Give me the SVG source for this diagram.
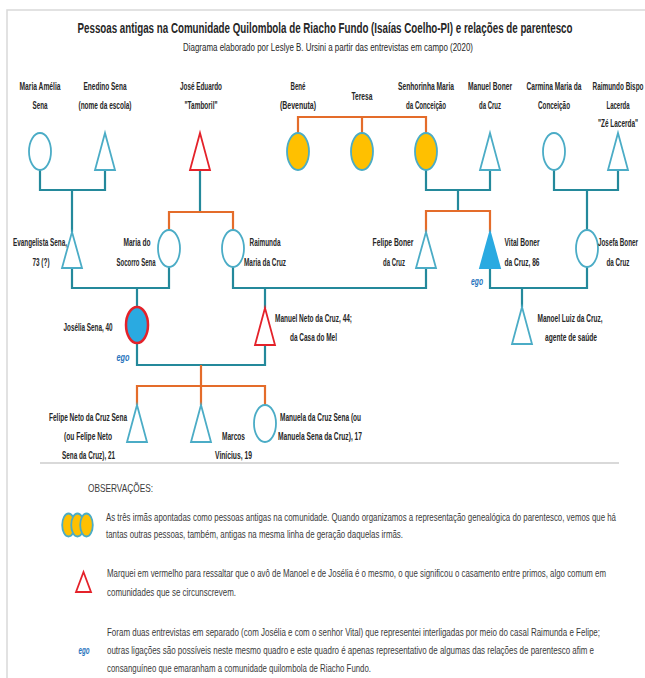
<svg xmlns="http://www.w3.org/2000/svg" width="645" height="678" viewBox="0 0 645 678">
<style>
.c{fill:none;stroke:#24899B;stroke-width:2.2}
.o{fill:none;stroke:#E46C2A;stroke-width:2.2}
.n{fill:#fff;stroke:#4BACC6;stroke-width:1.8}
.y{fill:#FFC000;stroke:#4BACC6;stroke-width:1.8}
.r{fill:#fff;stroke:#E4222A;stroke-width:1.8}
.lb{font-family:"Liberation Sans Narrow","Liberation Sans",Arial,sans-serif;font-size:10px;font-weight:bold;fill:#262626;text-anchor:middle}
.ego{font-family:"Liberation Sans Narrow","Liberation Sans",Arial,sans-serif;font-size:10px;font-style:italic;font-weight:bold;fill:#2874BD;text-anchor:middle}
.ob{font-family:"Liberation Sans Narrow","Liberation Sans",Arial,sans-serif;font-size:10.5px;fill:#3a3a3a}
.frame{fill:none;stroke:#D9D9D9;stroke-width:1.5}
</style>
<rect x="0" y="0" width="645" height="678" fill="#fff"/>
<path class="frame" d="M7,678 V10 H645"/>
<line x1="40" y1="463" x2="619" y2="463" stroke="#D9D9D9" stroke-width="2"/>
<g id="title">
<text x="325" y="33" font-family="'Liberation Sans Narrow','Liberation Sans',Arial,sans-serif" font-size="14" font-weight="bold" fill="#262626" text-anchor="middle" textLength="495" lengthAdjust="spacingAndGlyphs">Pessoas antigas na Comunidade Quilombola de Riacho Fundo (Isaías Coelho-PI) e relações de parentesco</text>
<text x="328" y="51" font-family="'Liberation Sans Narrow','Liberation Sans',Arial,sans-serif" font-size="11" fill="#262626" text-anchor="middle" textLength="290" lengthAdjust="spacingAndGlyphs">Diagrama elaborado por Leslye B. Ursini a partir das entrevistas em campo (2020)</text>
</g>
<g id="connectors">
<path class="c" d="M40,170 V190 H105 V170 M72,190 V232"/>
<path class="c" d="M200,170 V212"/>
<path class="o" d="M169,230 V212 H233 V230"/>
<path class="o" d="M298,133 V117 H426 V133 M362,117 V133"/>
<path class="c" d="M426,170 V190 H490 V170 M458,190 V211"/>
<path class="o" d="M426,232 V211 H490 V232"/>
<path class="c" d="M554,170 V190 H618 V170 M587,190 V230"/>
<path class="c" d="M72,268 V288 H169 V267 M137,288 V307"/>
<path class="c" d="M233,267 V288 H426 V268 M265,288 V308"/>
<path class="c" d="M490,268 V288 H587 V267 M522,288 V307"/>
<path class="c" d="M137,343 V365 H265 V345"/>
<path class="o" d="M201,365 V405 M137,405 V386 H265 V405"/>
</g>
<g id="maria-amelia"><ellipse class="n" cx="40" cy="151.5" rx="11" ry="18.5"/><text class="lb" x="40" y="90" textLength="41" lengthAdjust="spacingAndGlyphs">Maria Amélia</text><text class="lb" x="40" y="109" textLength="15" lengthAdjust="spacingAndGlyphs">Sena</text></g>
<g id="enedino"><path class="n" d="M105,133 L115,170 L95,170 Z"/><text class="lb" x="105" y="90" textLength="43" lengthAdjust="spacingAndGlyphs">Enedino Sena</text><text class="lb" x="105" y="109" textLength="53" lengthAdjust="spacingAndGlyphs">(nome da escola)</text></g>
<g id="jose-eduardo"><path class="r" d="M200,133 L210,170 L190,170 Z"/><text class="lb" x="201" y="90" textLength="42" lengthAdjust="spacingAndGlyphs">José Eduardo</text><text class="lb" x="201" y="109" textLength="33" lengthAdjust="spacingAndGlyphs">"Tamboril"</text></g>
<g id="bene"><ellipse class="y" cx="298" cy="151.5" rx="11" ry="18.5"/><text class="lb" x="298" y="90" textLength="15" lengthAdjust="spacingAndGlyphs">Bené</text><text class="lb" x="298" y="109" textLength="36" lengthAdjust="spacingAndGlyphs">(Bevenuta)</text></g>
<g id="teresa"><ellipse class="y" cx="362" cy="151.5" rx="11" ry="18.5"/><text class="lb" x="362" y="99.5" textLength="21" lengthAdjust="spacingAndGlyphs">Teresa</text></g>
<g id="senhorinha"><ellipse class="y" cx="426" cy="151.5" rx="11" ry="18.5"/><text class="lb" x="426" y="90" textLength="56" lengthAdjust="spacingAndGlyphs">Senhorinha Maria</text><text class="lb" x="426" y="109" textLength="40" lengthAdjust="spacingAndGlyphs">da Conceição</text></g>
<g id="manuel-boner"><path class="n" d="M490,133 L500,170 L480,170 Z"/><text class="lb" x="490" y="90" textLength="44" lengthAdjust="spacingAndGlyphs">Manuel Boner</text><text class="lb" x="490" y="109" textLength="22" lengthAdjust="spacingAndGlyphs">da Cruz</text></g>
<g id="carmina"><ellipse class="n" cx="554" cy="151.5" rx="11" ry="18.5"/><text class="lb" x="554" y="90" textLength="55" lengthAdjust="spacingAndGlyphs">Carmina Maria da</text><text class="lb" x="554" y="109" textLength="32" lengthAdjust="spacingAndGlyphs">Conceição</text></g>
<g id="raimundo"><path class="n" d="M618,133 L628,170 L608,170 Z"/><text class="lb" x="618" y="90" textLength="51" lengthAdjust="spacingAndGlyphs">Raimundo Bispo</text><text class="lb" x="618" y="108.5" textLength="23" lengthAdjust="spacingAndGlyphs">Lacerda</text><text class="lb" x="618" y="126.5" textLength="40" lengthAdjust="spacingAndGlyphs">"Zé Lacerda"</text></g>
<g id="evangelista"><path class="n" d="M72,232 L82,268 L62,268 Z"/><text class="lb" x="40" y="245.5" textLength="54" lengthAdjust="spacingAndGlyphs">Evangelista Sena,</text><text class="lb" x="41" y="265.5" textLength="17" lengthAdjust="spacingAndGlyphs">73 (?)</text></g>
<g id="socorro"><ellipse class="n" cx="169" cy="248.5" rx="11" ry="18.5"/><text class="lb" x="137" y="245.5" textLength="27" lengthAdjust="spacingAndGlyphs">Maria do</text><text class="lb" x="136" y="265.5" textLength="39" lengthAdjust="spacingAndGlyphs">Socorro Sena</text></g>
<g id="raimunda"><ellipse class="n" cx="233" cy="248.5" rx="11" ry="18.5"/><text class="lb" x="265" y="245.5" textLength="31" lengthAdjust="spacingAndGlyphs">Raimunda</text><text class="lb" x="265" y="265.5" textLength="42" lengthAdjust="spacingAndGlyphs">Maria da Cruz</text></g>
<g id="felipe-boner"><path class="n" d="M426,232 L436,268 L416,268 Z"/><text class="lb" x="393" y="245.5" textLength="41" lengthAdjust="spacingAndGlyphs">Felipe Boner</text><text class="lb" x="394" y="265.5" textLength="22" lengthAdjust="spacingAndGlyphs">da Cruz</text></g>
<g id="vital"><path d="M490,232 L500,268 L480,268 Z" fill="#2AAAE1" stroke="#2AAAE1" stroke-width="1.8"/><text class="lb" x="522" y="245.5" textLength="35" lengthAdjust="spacingAndGlyphs">Vital Boner</text><text class="lb" x="522" y="265.5" textLength="35" lengthAdjust="spacingAndGlyphs">da Cruz, 86</text><text class="ego" x="477" y="284.5" textLength="12" lengthAdjust="spacingAndGlyphs">ego</text></g>
<g id="josefa"><ellipse class="n" cx="587" cy="248.5" rx="11" ry="18.5"/><text class="lb" x="618" y="245.5" textLength="40" lengthAdjust="spacingAndGlyphs">Josefa Boner</text><text class="lb" x="618" y="265.5" textLength="23" lengthAdjust="spacingAndGlyphs">da Cruz</text></g>
<g id="joselia"><ellipse cx="137" cy="325" rx="11" ry="18" fill="#2AAAE1" stroke="#E4222A" stroke-width="2.5"/><text class="lb" x="88" y="330.5" textLength="49" lengthAdjust="spacingAndGlyphs">Josélia Sena, 40</text><text class="ego" x="123" y="360.5" textLength="13" lengthAdjust="spacingAndGlyphs">ego</text></g>
<g id="manuel-neto"><path class="r" d="M265,308 L275,345 L255,345 Z"/><text class="lb" x="313.5" y="321.5" textLength="77" lengthAdjust="spacingAndGlyphs">Manuel Neto da Cruz, 44;</text><text class="lb" x="313.5" y="340.5" textLength="47" lengthAdjust="spacingAndGlyphs">da Casa do Mel</text></g>
<g id="manoel-luiz"><path class="n" d="M522,307 L532,344 L512,344 Z"/><text class="lb" x="570" y="321.5" textLength="65" lengthAdjust="spacingAndGlyphs">Manoel Luiz da Cruz,</text><text class="lb" x="571" y="340.5" textLength="52" lengthAdjust="spacingAndGlyphs">agente de saúde</text></g>
<g id="felipe-neto"><path class="n" d="M137,405 L147,442 L127,442 Z"/><text class="lb" x="88" y="420.5" textLength="78" lengthAdjust="spacingAndGlyphs">Felipe Neto da Cruz Sena</text><text class="lb" x="88" y="439.5" textLength="48" lengthAdjust="spacingAndGlyphs">(ou Felipe Neto</text><text class="lb" x="88.5" y="458.5" textLength="53" lengthAdjust="spacingAndGlyphs">Sena da Cruz), 21</text></g>
<g id="marcos"><path class="n" d="M201,405 L211,442 L191,442 Z"/><text class="lb" x="233.5" y="439.5" textLength="23" lengthAdjust="spacingAndGlyphs">Marcos</text><text class="lb" x="233.5" y="458.5" textLength="37" lengthAdjust="spacingAndGlyphs">Vinícius, 19</text></g>
<g id="manuela"><ellipse class="n" cx="265" cy="423.5" rx="11" ry="18.5"/><text class="lb" x="320.5" y="420.5" textLength="81" lengthAdjust="spacingAndGlyphs">Manuela da Cruz Sena (ou</text><text class="lb" x="320" y="439.5" textLength="84" lengthAdjust="spacingAndGlyphs">Manuela Sena da Cruz), 17</text></g>
<g id="observacoes">
<text class="ob" x="88" y="492" textLength="65" lengthAdjust="spacingAndGlyphs">OBSERVAÇÕES:</text>
<ellipse class="y" cx="68.5" cy="525" rx="6.3" ry="11.5"/>
<ellipse class="y" cx="77.5" cy="525" rx="6.3" ry="11.5"/>
<ellipse class="y" cx="86.5" cy="525" rx="6.3" ry="11.5"/>
<text class="ob" x="106" y="520.5" textLength="510" lengthAdjust="spacingAndGlyphs">As três irmãs apontadas como pessoas antigas na comunidade. Quando organizamos a representação genealógica do parentesco, vemos que há</text>
<text class="ob" x="106" y="538" textLength="297" lengthAdjust="spacingAndGlyphs">tantas outras pessoas, também, antigas  na mesma linha de geração daquelas irmãs.</text>
<path class="r" d="M83.5,572 L91,592 L76,592 Z"/>
<text class="ob" x="107" y="577" textLength="499" lengthAdjust="spacingAndGlyphs">Marquei em vermelho para ressaltar que o avô de Manoel e de Josélia é o mesmo, o que significou o casamento entre primos, algo comum em</text>
<text class="ob" x="107" y="595.5" textLength="129" lengthAdjust="spacingAndGlyphs">comunidades que se circunscrevem.</text>
<text class="ego" x="84" y="653.5" textLength="11" lengthAdjust="spacingAndGlyphs">ego</text>
<text class="ob" x="107" y="635.5" textLength="493" lengthAdjust="spacingAndGlyphs">Foram duas entrevistas em separado (com Josélia e com o senhor Vital) que representei interligadas por meio do casal Raimunda e Felipe;</text>
<text class="ob" x="107" y="653.5" textLength="487" lengthAdjust="spacingAndGlyphs">outras ligações são possíveis neste mesmo quadro e este quadro é apenas representativo de algumas das relações de parentesco afim e</text>
<text class="ob" x="107" y="671.5" textLength="264" lengthAdjust="spacingAndGlyphs">consanguíneo que emaranham a comunidade quilombola de Riacho Fundo.</text>
</g>
</svg>
